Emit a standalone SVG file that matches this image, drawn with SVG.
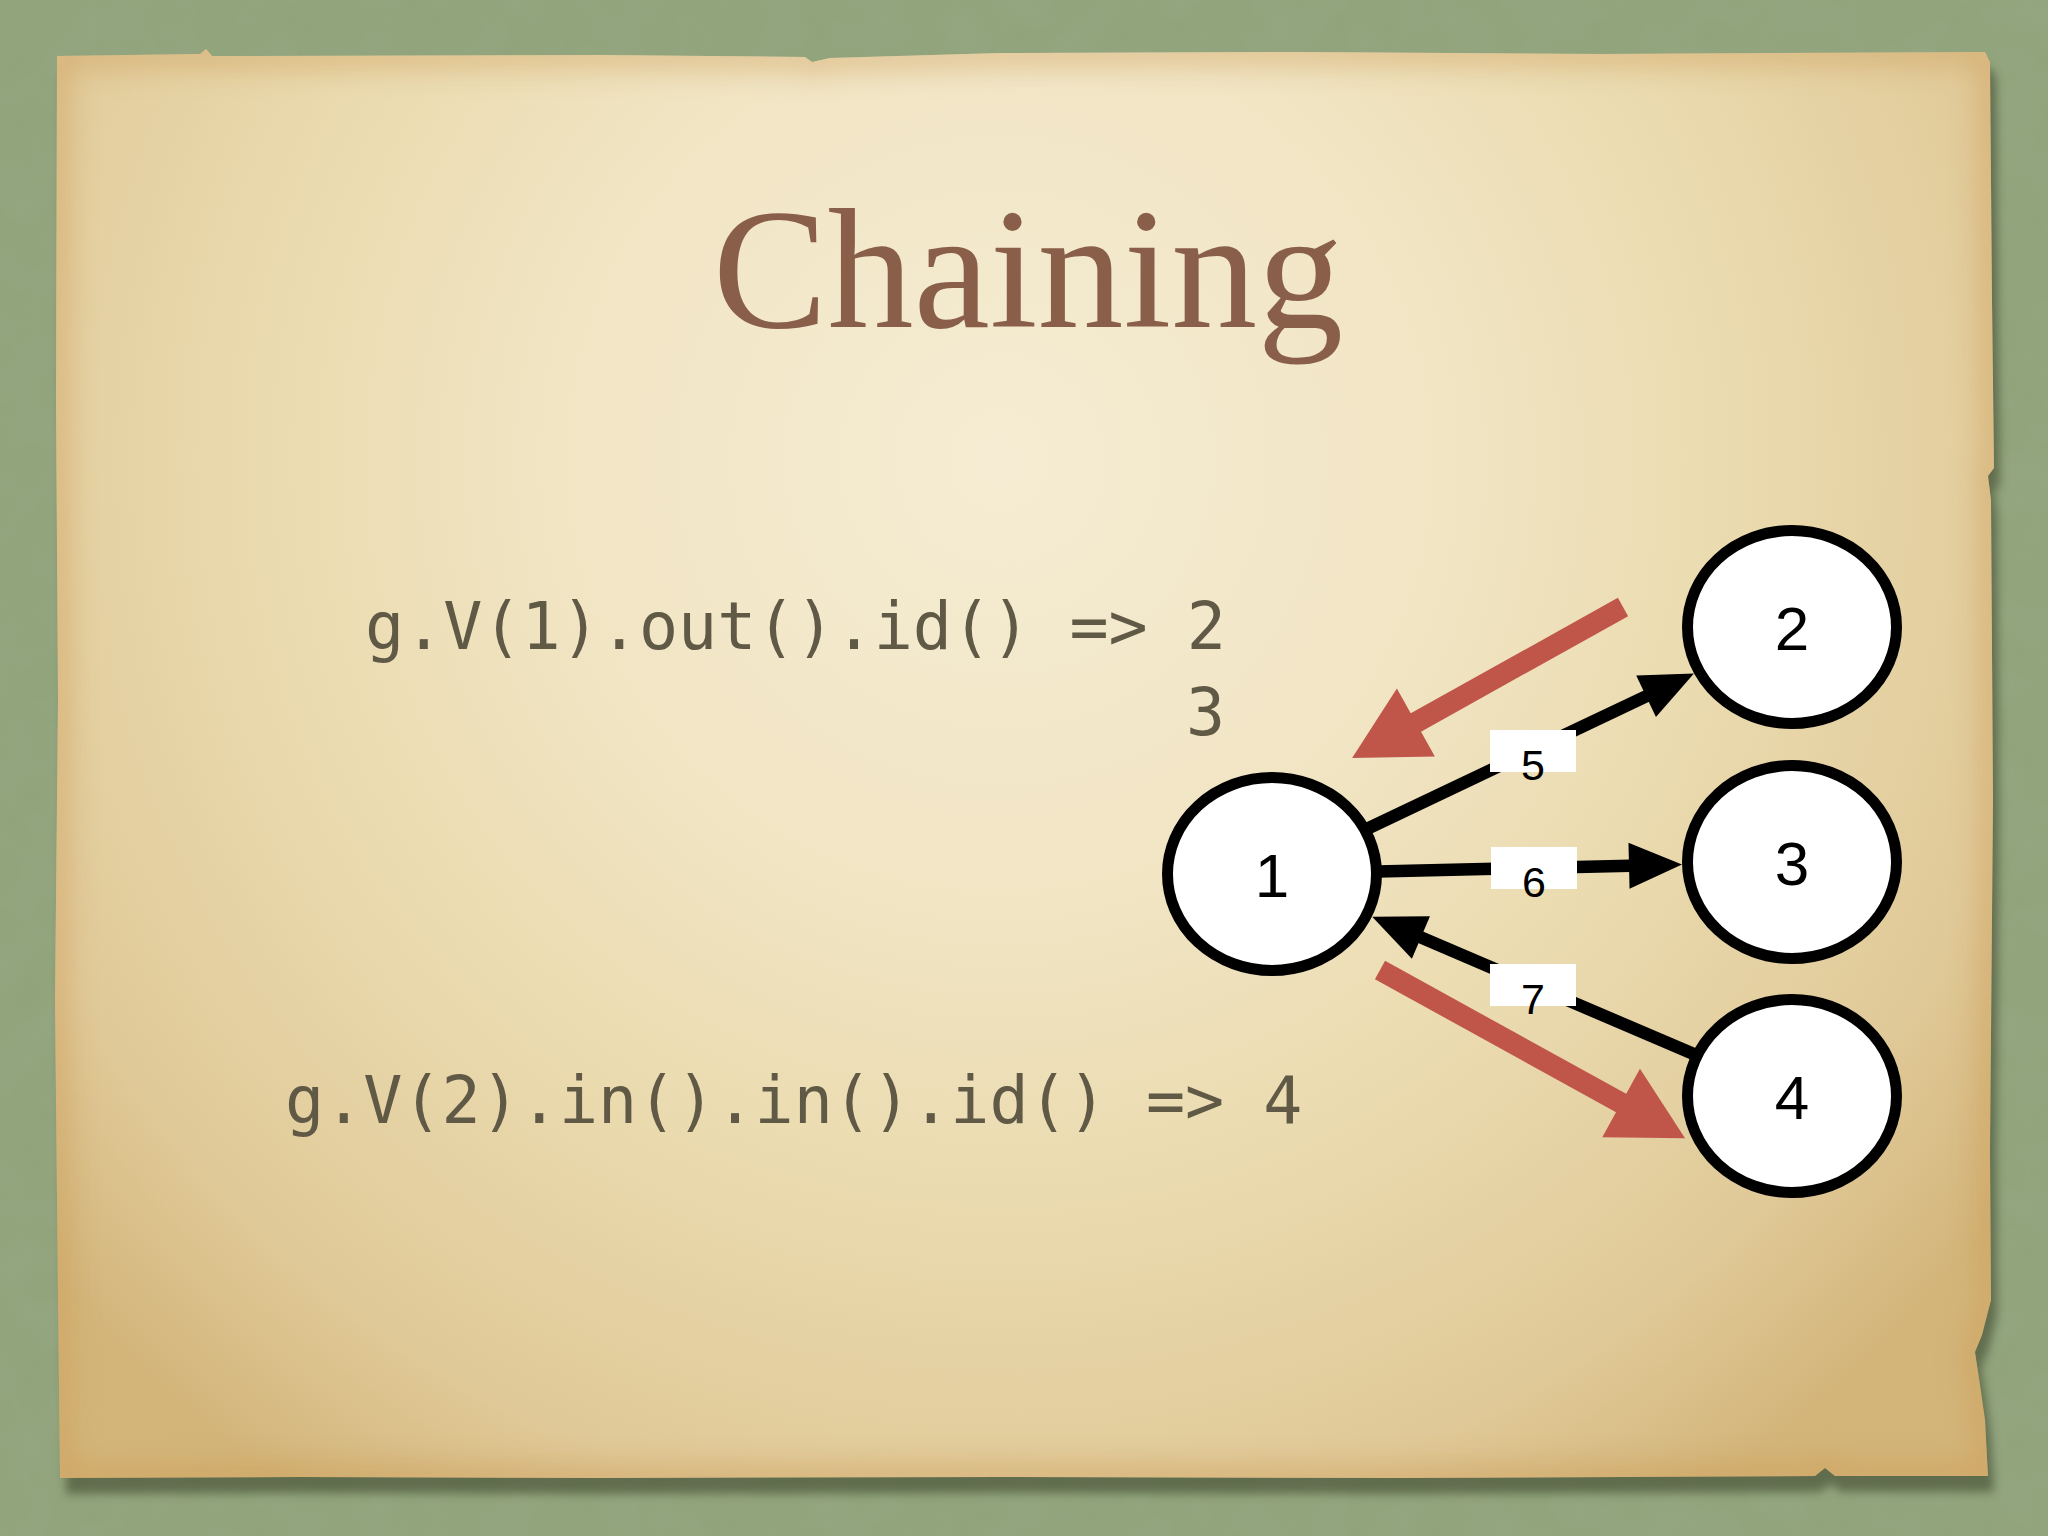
<svg xmlns="http://www.w3.org/2000/svg" width="2048" height="1536" viewBox="0 0 2048 1536">
<defs>
<style>
.node ellipse{fill:#fff;stroke:#000;stroke-width:11}
.node text{font-family:"Liberation Sans",Arial,sans-serif;font-size:62px;fill:#000;text-anchor:middle}
.edge{stroke:#000;stroke-width:12.5;fill:none}
.red{stroke:#c0554a;stroke-width:21;fill:none}
.lbl rect{fill:#fff}
.lbl text{font-family:"Liberation Sans",Arial,sans-serif;font-size:43px;fill:#000;text-anchor:middle}
.code{font-family:"DejaVu Sans Mono","Liberation Mono",monospace;font-size:65px;fill:#5f5946}
.title{font-family:"Liberation Serif","Times New Roman",serif;font-size:172px;fill:#8a5f49;text-anchor:middle}
</style>
<marker id="ah" markerUnits="userSpaceOnUse" markerWidth="60" markerHeight="60" refX="0" refY="23" orient="auto" overflow="visible"><path d="M-1,0 L52,23 L-1,46 z" fill="#000"/></marker>
<marker id="rh" markerUnits="userSpaceOnUse" markerWidth="80" markerHeight="80" refX="0" refY="39" orient="auto" overflow="visible"><path d="M-1,0 L72,39 L-1,78 z" fill="#c0554a"/></marker>
<radialGradient id="paperG" cx="1000" cy="460" r="1250" gradientUnits="userSpaceOnUse">
<stop offset="0" stop-color="#f5ecd3"/>
<stop offset="0.35" stop-color="#f1e5c4"/>
<stop offset="0.6" stop-color="#eadaae"/>
<stop offset="0.85" stop-color="#e0c998"/>
<stop offset="1" stop-color="#d3b57a"/>
</radialGradient>
<filter id="tex" x="0" y="0" width="100%" height="100%">
<feTurbulence type="fractalNoise" baseFrequency="0.02" numOctaves="3" seed="4" result="n"/>
<feColorMatrix in="n" type="matrix" values="0 0 0 0 0.35  0 0 0 0 0.42  0 0 0 0 0.28  0 0 0 0.9 -0.3" result="c"/>
<feComposite in="c" in2="SourceGraphic" operator="in"/>
</filter>
<filter id="blur4"><feGaussianBlur stdDeviation="5"/></filter>
<filter id="blur14"><feGaussianBlur stdDeviation="14"/></filter>
<path id="paper" d="M57,56 L200,54 L206,49 L212,56 L600,55 L805,57 L812,62 L830,58 L1000,53 L1300,52 L1600,54 L1985,52 L1990,62 L1992,300 L1994,468 L1988,476 L1991,500 L1993,800 L1990,1150 L1991,1300 L1982,1335 L1975,1352 L1980,1385 L1985,1420 L1988,1476 L1835,1476 L1825,1468 L1815,1476 L1400,1478 L1000,1477 L600,1478 L300,1477 L60,1478 L58,1300 L55,1000 L58,700 L56,400 Z"/>
<clipPath id="paperClip"><use href="#paper"/></clipPath>
</defs>

<g id="background">
<rect width="2048" height="1536" fill="#91a47c"/>
<rect width="2048" height="1536" fill="#91a47c" filter="url(#tex)" opacity="0.5"/>
<use href="#paper" transform="translate(6,16)" fill="#3f4a2e" opacity="0.6" filter="url(#blur4)"/>
<use href="#paper" fill="url(#paperG)"/>
<g clip-path="url(#paperClip)">
<use href="#paper" fill="none" stroke="#cc9a52" stroke-width="24" opacity="0.5" filter="url(#blur14)"/>
</g>
</g>

<text class="title" x="1028" y="327">Chaining</text>

<g id="code">
<text class="code" x="365" y="649">g.V(1).out().id() =&gt; 2</text>
<text class="code" x="1186" y="735">3</text>
<text class="code" x="285" y="1123">g.V(2).in().in().id() =&gt; 4</text>
</g>

<g id="connectors">
<line class="edge" x1="1272" y1="874" x2="1647" y2="695.8" marker-end="url(#ah)"/>
<line class="edge" x1="1272" y1="874" x2="1630" y2="865.7" marker-end="url(#ah)"/>
<line class="edge" x1="1792" y1="1096" x2="1420" y2="937.1" marker-end="url(#ah)"/>
<line class="red" x1="1623" y1="607" x2="1415" y2="723" marker-end="url(#rh)"/>
<line class="red" x1="1380" y1="970" x2="1622" y2="1103.5" marker-end="url(#rh)"/>
<g class="lbl" id="label5"><rect x="1490" y="730" width="86" height="42"/><text x="1533" y="780">5</text></g>
<g class="lbl" id="label6"><rect x="1491" y="847" width="86" height="42"/><text x="1534" y="897">6</text></g>
<g class="lbl" id="label7"><rect x="1490" y="964" width="86" height="42"/><text x="1533" y="1014">7</text></g>
</g>

<g id="node1" class="node"><ellipse cx="1272" cy="874" rx="104.5" ry="96.5"/><text x="1272" y="897">1</text></g>
<g id="node2" class="node"><ellipse cx="1792" cy="627" rx="104.5" ry="96.5"/><text x="1792" y="650">2</text></g>
<g id="node3" class="node"><ellipse cx="1792" cy="862" rx="104.5" ry="96.5"/><text x="1792" y="885">3</text></g>
<g id="node4" class="node"><ellipse cx="1792" cy="1096" rx="104.5" ry="96.5"/><text x="1792" y="1119">4</text></g>
</svg>
